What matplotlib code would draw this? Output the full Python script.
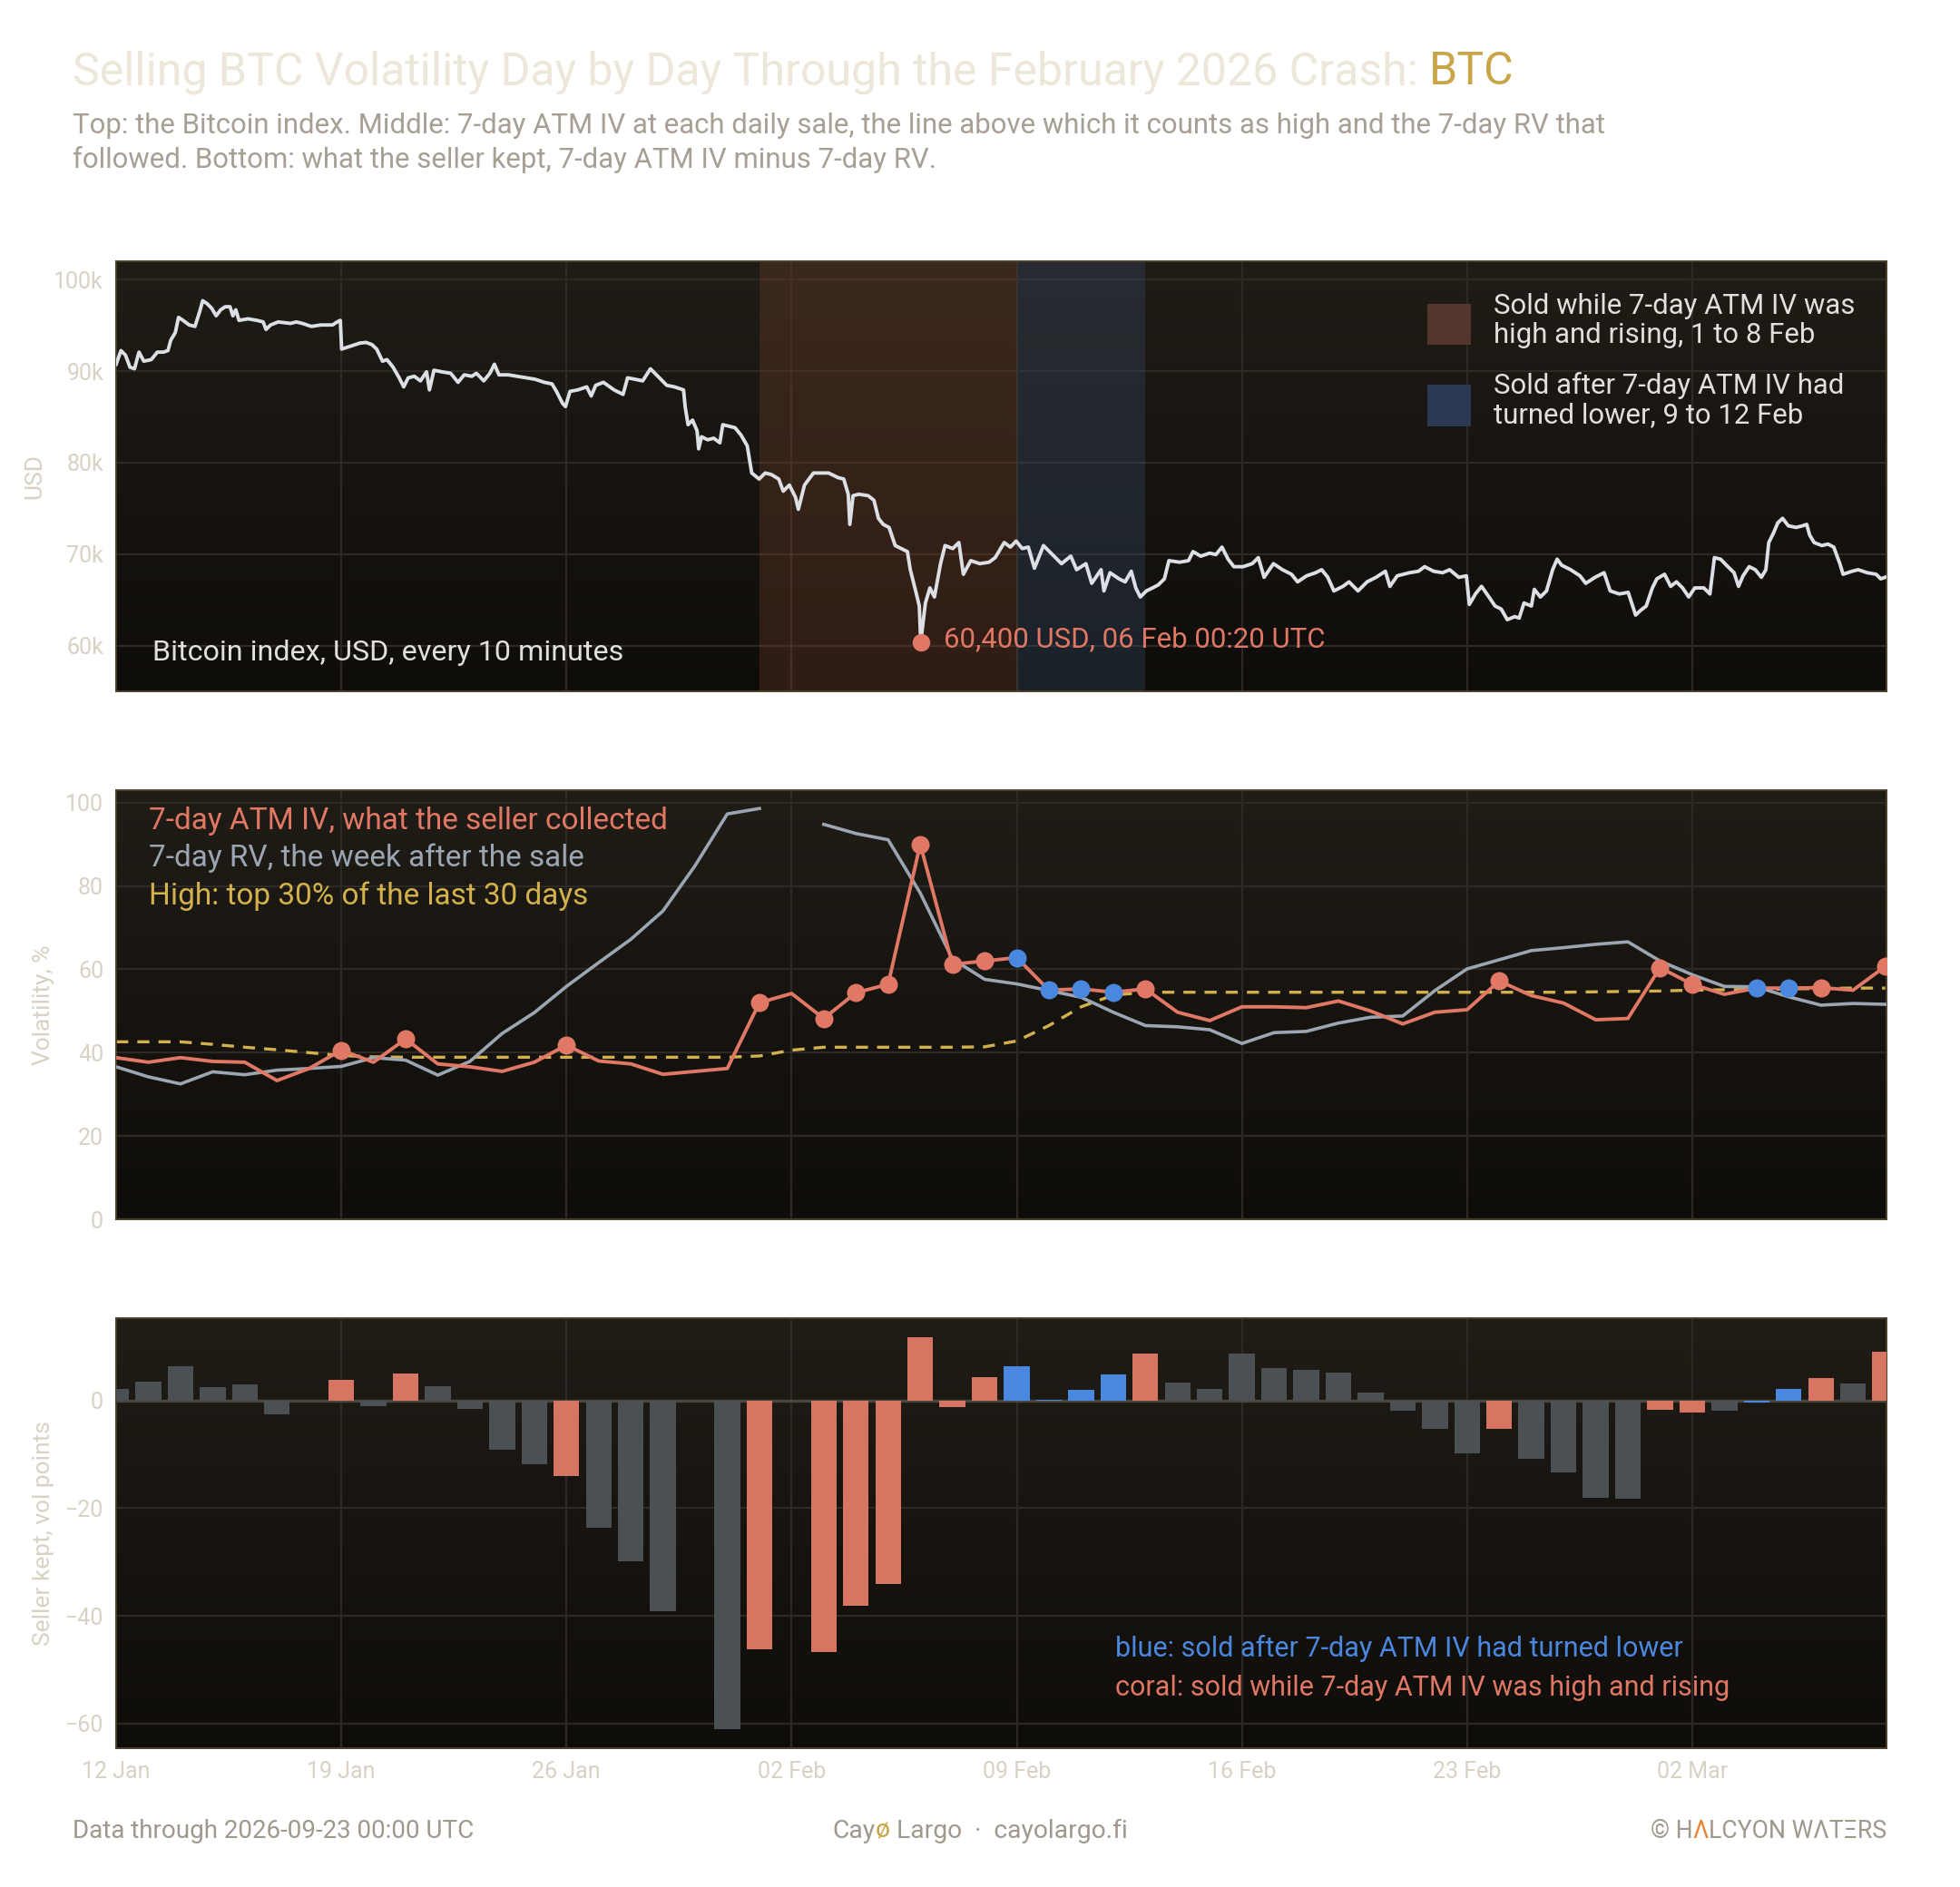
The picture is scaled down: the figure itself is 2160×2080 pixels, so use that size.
import numpy as np
import matplotlib
matplotlib.use("Agg")
import matplotlib.pyplot as plt
import matplotlib.dates as mdates
from matplotlib.colors import LinearSegmentedColormap
from matplotlib.patches import Rectangle
from matplotlib.ticker import FuncFormatter

plt.rcParams.update({
    "font.family": ["Roboto", "DejaVu Sans"],
    "font.size": 9,
})

START = np.datetime64("2026-01-12T00:00")

# Bitcoin index: days after 12 Jan, USD thousands
btc_day = [0.00, 0.15, 0.29, 0.43, 0.57, 0.71, 0.86, 1.09, 1.28, 1.47, 1.61, 1.70, 1.84, 1.94, 2.08,
           2.27, 2.45, 2.60, 2.69, 2.83, 2.97, 3.11, 3.25, 3.39, 3.54, 3.63, 3.72, 3.82, 4.10, 4.38,
           4.57, 4.66, 4.80, 5.04, 5.42, 5.60, 5.79, 6.07, 6.36, 6.73, 6.87, 6.97, 7.01, 7.30, 7.58,
           7.77, 7.95, 8.10, 8.28, 8.42, 8.61, 8.80, 8.94, 9.08, 9.27, 9.46, 9.65, 9.74, 9.88, 10.12,
           10.40, 10.63, 10.82, 11.06, 11.20, 11.43, 11.62, 11.76, 11.90, 12.19, 12.47, 12.75, 13.03,
           13.31, 13.55, 13.69, 13.88, 13.97, 14.11, 14.35, 14.63, 14.77, 14.91, 15.15, 15.48, 15.76,
           15.90, 16.14, 16.37, 16.61, 16.84, 17.12, 17.36, 17.64, 17.69, 17.78, 17.92, 18.06, 18.11,
           18.20, 18.39, 18.58, 18.77, 18.86, 19.05, 19.24, 19.43, 19.62, 19.76, 19.99, 20.18, 20.37,
           20.60, 20.74, 20.93, 21.12, 21.21, 21.40, 21.68, 21.87, 22.15, 22.44, 22.62, 22.76, 22.81,
           22.91, 23.09, 23.38, 23.56, 23.70, 23.85, 24.03, 24.22, 24.41, 24.60, 24.69, 24.88, 24.97,
           25.014, 25.16, 25.30, 25.44, 25.63, 25.77, 26.01, 26.20, 26.34, 26.57, 26.85, 27.14, 27.33,
           27.61, 27.80, 27.98, 28.17, 28.36, 28.55, 28.83, 29.11, 29.39, 29.68, 29.86, 30.15, 30.33,
           30.62, 30.71, 30.90, 31.18, 31.37, 31.56, 31.70, 31.84, 32.03, 32.22, 32.40, 32.59, 32.73,
           33.06, 33.34, 33.48, 33.72, 34.00, 34.19, 34.38, 34.57, 34.75, 35.04, 35.32, 35.51, 35.69,
           35.98, 36.26, 36.54, 36.73, 37.01, 37.29, 37.48, 37.67, 37.86, 38.14, 38.33, 38.61, 38.89,
           39.17, 39.46, 39.60, 39.83, 40.21, 40.49, 40.68, 40.96, 41.24, 41.46, 41.74, 41.98, 42.07,
           42.26, 42.45, 42.68, 42.87, 43.06, 43.25, 43.48, 43.62, 43.77, 44.00, 44.09, 44.28, 44.47,
           44.66, 44.80, 44.94, 45.22, 45.51, 45.69, 45.98, 46.26, 46.45, 46.73, 47.01, 47.24, 47.39,
           47.57, 47.76, 47.90, 48.14, 48.33, 48.51, 48.70, 48.89, 49.08, 49.36, 49.55, 49.69, 49.88,
           50.11, 50.30, 50.44, 50.58, 50.77, 50.96, 51.15, 51.29, 51.38, 51.52, 51.66, 51.81, 51.99,
           52.23, 52.42, 52.56, 52.65, 52.79, 53.03, 53.22, 53.40, 53.59, 53.69, 53.97, 54.16, 54.44,
           54.72, 54.86, 55.00]
btc_k = [90.75, 92.24, 91.74, 90.42, 90.25, 92.07, 91.08, 91.25, 92.07, 92.07, 92.24, 93.39, 94.22, 95.87, 95.54,
         95.04, 94.88, 96.53, 97.69, 97.36, 96.86, 96.04, 96.70, 97.03, 97.03, 96.04, 96.70, 95.54, 95.71, 95.54,
         95.37, 94.55, 95.04, 95.37, 95.21, 95.37, 95.21, 94.88, 95.04, 95.04, 95.37, 95.54, 92.40, 92.73, 93.06,
         93.13, 92.90, 92.40, 91.08, 91.25, 90.42, 89.26, 88.27, 89.26, 89.43, 88.93, 89.92, 87.94, 90.09, 89.92,
         89.76, 88.77, 89.59, 89.43, 89.76, 88.93, 89.76, 90.75, 89.59, 89.59, 89.43, 89.26, 89.10,
         88.77, 88.60, 87.78, 86.46, 86.12, 87.78, 87.94, 88.27, 87.28, 88.44, 88.77, 87.94, 87.45,
         89.26, 89.10, 88.93, 90.25, 89.43, 88.44, 88.27, 87.94, 86.12, 84.14, 84.64, 83.48, 81.50,
         82.82, 82.49, 82.66, 82.16, 84.14, 83.98, 83.81, 82.99, 81.83, 78.86, 78.20, 78.86, 78.69,
         78.20, 76.87, 77.54, 76.21, 74.89, 77.54, 78.86, 78.86, 78.86, 78.36, 78.20, 76.54, 73.24,
         76.38, 76.54, 76.38, 75.88, 73.90, 73.24, 72.91, 70.93, 70.60, 70.27, 68.29, 65.64, 64.32,
         60.40, 64.65, 66.30, 65.31, 68.95, 70.93, 70.60, 71.26, 67.79, 69.28, 68.95, 69.11, 69.61,
         71.26, 70.76, 71.42, 70.60, 70.76, 68.45, 70.93, 69.94, 68.95, 69.77, 68.29, 68.95, 66.80,
         68.29, 65.97, 67.96, 67.29, 66.96, 68.12, 66.30, 65.31, 65.97, 66.30, 66.63, 67.29, 69.28,
         69.11, 69.28, 70.27, 69.77, 70.10, 69.94, 70.76, 69.44, 68.62, 68.62, 68.95, 69.61, 67.46,
         68.95, 68.29, 67.79, 66.96, 67.62, 67.96, 68.29, 67.46, 65.97, 66.47, 66.96, 65.97, 66.96,
         67.46, 68.12, 66.47, 67.62, 67.96, 68.12, 68.62, 68.12, 67.96, 68.29, 67.46, 67.62, 64.49,
         65.64, 66.47, 65.31, 64.32, 63.99, 62.83, 63.16, 63.00, 64.65, 64.32, 66.14, 65.31, 65.97,
         68.29, 69.44, 68.78, 68.29, 67.62, 66.80, 67.46, 67.96, 65.97, 65.64, 65.81, 63.33, 63.83,
         64.32, 66.30, 67.29, 67.79, 66.47, 66.96, 66.30, 65.31, 66.30, 66.30, 65.64, 69.61, 69.44,
         68.62, 67.96, 66.47, 67.62, 68.62, 68.29, 67.46, 68.29, 71.26, 72.25, 73.41, 73.90, 73.08,
         72.91, 73.08, 73.24, 72.08, 71.26, 70.93, 71.09, 70.76, 68.95, 67.79, 68.12, 68.29, 67.96,
         67.79, 67.29, 67.46]
low_day, low_k = 25.014, 60.4  # 06 Feb 00:20 UTC

# Daily sales, 12 Jan to 08 Mar
iv_7d = [38.8, 37.7, 38.8, 37.9, 37.7, 33.3, 36.2, 40.6, 37.7, 43.3,
         37.3, 36.6, 35.5, 37.7, 41.8, 38.0, 37.3, 34.8, 35.5, 36.2,
         52.0, 54.2, 48.2, 54.4, 56.4, 90.0, 61.2, 62.0, 62.8, 55.0,
         55.3, 54.5, 55.3, 49.7, 47.7, 51.0, 51.0, 50.8, 52.4, 50.0,
         46.9, 49.7, 50.3, 57.2, 53.7, 51.9, 47.9, 48.2, 60.4, 56.4,
         54.0, 55.5, 55.5, 55.6, 55.0, 60.7]
rv_7d = [36.6, 34.2, 32.5, 35.4, 34.7, 35.8, 36.2, 36.7, 38.8, 38.2,
         34.6, 37.9, 44.6, 49.6, 55.9, 61.6, 67.2, 74.0, 84.9, 97.3,
         98.6, np.nan, 94.8, 92.6, 91.1, 78.3, 62.5, 57.6, 56.5, 54.9,
         53.3, 49.7, 46.5, 46.2, 45.5, 42.2, 44.8, 45.1, 47.1, 48.5,
         48.8, 54.9, 60.1, 62.3, 64.5, 65.2, 66.0, 66.6, 62.0, 58.7,
         55.9, 55.8, 53.4, 51.4, 51.8, 51.6]
iv_high_line = [42.6, 42.6, 42.6, 42.0, 41.3, 40.7, 40.0, 39.3, 39.0, 38.9,
                38.9, 38.9, 38.9, 38.9, 38.9, 38.9, 38.9, 38.9, 38.9, 38.9,
                39.2, 40.6, 41.3, 41.3, 41.3, 41.3, 41.3, 41.4, 42.8, 46.5,
                51.0, 53.8, 54.5, 54.5, 54.5, 54.5, 54.5, 54.5, 54.5, 54.5,
                54.5, 54.5, 54.5, 54.5, 54.5, 54.5, 54.6, 54.7, 54.8, 55.0,
                55.1, 55.2, 55.3, 55.4, 55.5, 55.5]
seller_kept = [2.2, 3.5, 6.3, 2.5, 3.0, -2.5, 0.0, 3.9, -1.1, 5.1,
               2.7, -1.6, -9.1, -11.9, -14.1, -23.6, -29.9, -39.2, np.nan, -61.1,
               -46.3, np.nan, -46.8, -38.2, -34.1, 11.7, -1.3, 4.4, 6.4, 0.2,
               2.0, 4.9, 8.8, 3.4, 2.2, 8.8, 6.1, 5.7, 5.2, 1.5,
               -1.9, -5.2, -9.8, -5.2, -10.8, -13.4, -18.1, -18.3, -1.7, -2.2,
               -1.9, -0.3, 2.2, 4.2, 3.2, 9.1]
# c = sold while IV high and rising, b = sold after IV turned lower, - = neither
sale_state = list("-------c-c----c-----c-cccccc" "bbbbc----------c----cc-bbc-c")

span_high = (20, 28)     # 1 to 8 Feb
span_lower = (28, 32)    # 9 to 12 Feb

CORAL = "#e07865"
BAR_CORAL = "#d57562"
BLUE = "#4a88e0"
GREY_BAR = "#4b5055"
RV_COL = "#9ba6b2"
GOLD = "#d3b24e"
TICK = "#d8d2c4"
GRID = "#2d2924"
SPINE = "#4a3f2a"


def to_num(days):
    d = np.asarray(days, dtype=float)
    return mdates.date2num(START + np.round(d * 86400).astype("timedelta64[s]"))


x_btc = to_num(btc_day)
sale_days = np.arange(len(iv_7d))
x_sale = to_num(sale_days)
x_left, x_right = to_num([0.0, 55.04])

fig = plt.figure(figsize=(10.8, 10.4), dpi=200)
W, H = 2160, 2080


def rect(top, bottom):
    return (128 / W, 1 - bottom / H, 1951 / W, (bottom - top) / H)


panel_cmap = LinearSegmentedColormap.from_list("panel", ["#201c16", "#0f0d0a"])
rects = [rect(288, 762), rect(871, 1344), rect(1453, 1927)]
axes = []
for r in rects:
    bg = fig.add_axes(r, zorder=0)
    bg.imshow(np.linspace(0, 1, 256)[:, None], cmap=panel_cmap, aspect="auto",
              extent=(0, 1, 0, 1), origin="upper")
    bg.set_axis_off()
    ax = fig.add_axes(r, zorder=1, sharex=axes[0] if axes else None)
    ax.patch.set_visible(False)
    ax.grid(True, color=GRID, lw=0.8)
    ax.set_axisbelow(True)
    for s in ax.spines.values():
        s.set_color(SPINE)
        s.set_linewidth(0.7)
    ax.tick_params(length=0, labelcolor=TICK, labelsize=9, pad=5)
    axes.append(ax)

ax1, ax2, ax3 = axes

# ---- top: bitcoin index
ax1.axvspan(*to_num(span_high), color="#7a4330", alpha=0.30, lw=0, zorder=1)
ax1.axvspan(*to_num(span_lower), color="#3a5273", alpha=0.30, lw=0, zorder=1)
ax1.plot(x_btc, btc_k, color="#dcdfe4", lw=1.4, zorder=3)
ax1.plot(to_num([low_day]), [low_k], "o", color=CORAL, ms=6, zorder=4)
ax1.annotate("60,400 USD, 06 Feb 00:20 UTC", (to_num([low_day])[0], low_k),
             xytext=(9, 1), textcoords="offset points", va="center",
             color=CORAL, fontsize=11.2)
ax1.set_ylim(55, 102)
ax1.set_yticks([60, 70, 80, 90, 100])
ax1.yaxis.set_major_formatter(FuncFormatter(lambda v, p: f"{v:.0f}k"))
ax1.set_ylabel("USD", color=TICK, fontsize=9.5)
ax1.yaxis.set_label_coords(-0.040, 0.5)
ax1.text(0.0205, 0.089, "Bitcoin index, USD, every 10 minutes", transform=ax1.transAxes,
         color="#e2e0dc", fontsize=11.6, va="center", zorder=5)

legend_items = [
    ("#55362d", (0.8059, 0.9008), 0.862, "Sold while 7-day ATM IV was\nhigh and rising, 1 to 8 Feb"),
    ("#2b3a52", (0.6160, 0.7131), 0.677, "Sold after 7-day ATM IV had\nturned lower, 9 to 12 Feb"),
]
for col, (y0, y1), ty, label in legend_items:
    ax1.add_patch(Rectangle((0.7406, y0), 0.0246, y1 - y0, transform=ax1.transAxes,
                            color=col, lw=0, zorder=5))
    ax1.text(0.7781, ty, label, transform=ax1.transAxes, color="#e2e0dc",
             fontsize=11.2, va="center", linespacing=1.15, zorder=5)

# ---- middle: IV vs RV
ax2.plot(x_sale, iv_high_line, color=GOLD, lw=1.2, ls=(0, (4, 3)), zorder=2)
ax2.plot(x_sale, rv_7d, color=RV_COL, lw=1.3, zorder=3)
ax2.plot(x_sale, iv_7d, color=CORAL, lw=1.4, zorder=4)
state = np.array(sale_state)
iv_arr = np.array(iv_7d)
ax2.plot(x_sale[state == "c"], iv_arr[state == "c"], "o", color=CORAL, ms=6.2, zorder=5)
ax2.plot(x_sale[state == "b"], iv_arr[state == "b"], "o", color=BLUE, ms=6.2, zorder=5)
ax2.set_ylim(0, 103)
ax2.set_yticks([0, 20, 40, 60, 80, 100])
ax2.set_ylabel("Volatility, %", color=TICK, fontsize=9.5)
ax2.yaxis.set_label_coords(-0.035, 0.5)
for ty, txt, col in [(0.928, "7-day ATM IV, what the seller collected", CORAL),
                     (0.841, "7-day RV, the week after the sale", RV_COL),
                     (0.753, "High: top 30% of the last 30 days", GOLD)]:
    ax2.text(0.0185, ty, txt, transform=ax2.transAxes, color=col, fontsize=12,
             va="center", zorder=6)

# ---- bottom: what the seller kept
bar_cols = [{"c": BAR_CORAL, "b": BLUE}.get(s, GREY_BAR) for s in sale_state]
ax3.axhline(0, color="#4a4640", lw=1.2, zorder=1)
ax3.bar(x_sale, seller_kept, width=0.8, color=bar_cols, lw=0, zorder=3)
ax3.set_ylim(-64.6, 15.3)
ax3.set_yticks([-60, -40, -20, 0])
ax3.set_ylabel("Seller kept, vol points", color=TICK, fontsize=9.5)
ax3.yaxis.set_label_coords(-0.035, 0.5)
ax3.text(0.5643, 0.232, "blue: sold after 7-day ATM IV had turned lower", transform=ax3.transAxes,
         color=BLUE, fontsize=11, va="center")
ax3.text(0.5643, 0.141, "coral: sold while 7-day ATM IV was high and rising", transform=ax3.transAxes,
         color=CORAL, fontsize=11, va="center")

ax3.set_xlim(x_left, x_right)
ax3.xaxis.set_major_locator(mdates.WeekdayLocator(byweekday=mdates.MO))
ax3.xaxis.set_major_formatter(mdates.DateFormatter("%d %b"))
ax1.tick_params(labelbottom=False)
ax2.tick_params(labelbottom=False)

# ---- titles and footer
renderer = fig.canvas.get_renderer()


def pieces(parts, x_px, y, ha="left", **kw):
    texts = [fig.text(0, y, s, color=c, **kw) for s, c in parts]
    widths = [t.get_window_extent(renderer).width for t in texts]
    total = sum(widths)
    start = {"left": x_px, "center": x_px - total / 2, "right": x_px - total}[ha]
    for t, w in zip(texts, widths):
        t.set_x(start / W)
        start += w


pieces([("Selling BTC Volatility Day by Day Through the February 2026 Crash: ", "#ede7da"),
        ("BTC", "#c9a547")], 80, 1 - 93 / H, fontsize=18, va="baseline")
fig.text(80 / W, 1 - 147 / H,
         "Top: the Bitcoin index. Middle: 7-day ATM IV at each daily sale, the line above which it counts as high and the 7-day RV that",
         color="#a59f94", fontsize=11.2, va="baseline")
fig.text(80 / W, 1 - 185 / H,
         "followed. Bottom: what the seller kept, 7-day ATM IV minus 7-day RV.",
         color="#a59f94", fontsize=11.2, va="baseline")

fig.text(80 / W, 1 - 2018 / H, "Data through 2026-09-23 00:00 UTC", color="#9e988d",
         fontsize=10, va="center")
pieces([("Cay", "#9e988d"), ("ø", "#c9a547"), (" Largo  ·  cayolargo.fi", "#9e988d")],
       1080, 1 - 2018 / H, ha="center", fontsize=10.2, va="center")
pieces([("© H", "#9e988d"), ("Λ", "#e8843a"), ("LCYON WΛTΞRS", "#9e988d")],
       2079, 1 - 2018 / H, ha="right", fontsize=9.6, va="center")

fig.savefig("out.png", dpi=200, facecolor="white")
